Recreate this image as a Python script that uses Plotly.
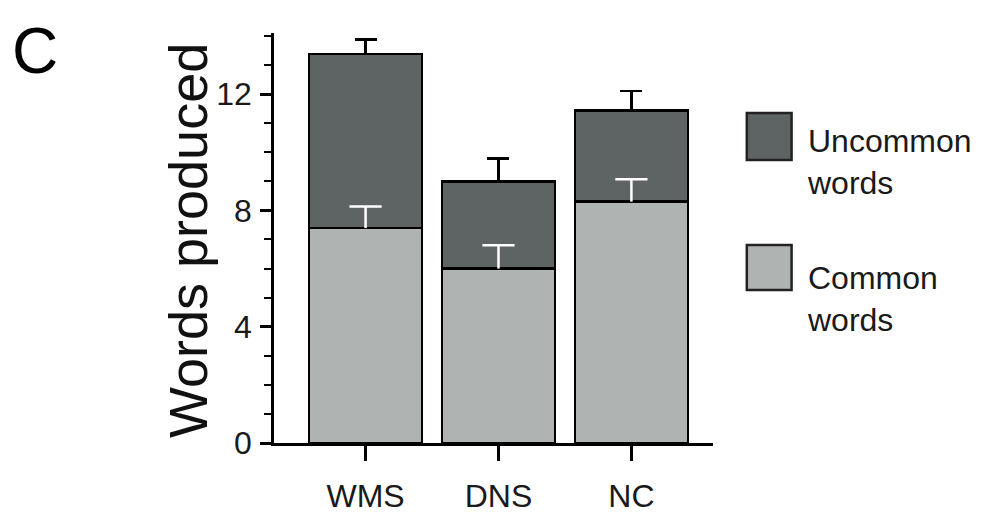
import plotly.graph_objects as go

groups = ["WMS", "DNS", "NC"]
common_words = [7.39, 6.0, 8.3]
common_err = [0.74, 0.8, 0.77]
uncommon_words = [5.98, 2.99, 3.13]
total_err = [0.5, 0.8, 0.67]
y_ticks = [0, 4, 8, 12]

FONT = "Liberation Sans, Arial, sans-serif"
DARK = "#5e6463"
LIGHT = "#afb3b2"

common_err_top = [c + e for c, e in zip(common_words, common_err)]

fig = go.Figure()
fig.add_trace(go.Bar(
    x=groups, y=common_words, name="Common words",
    marker=dict(color=LIGHT, line=dict(color="black", width=2.5)),
    showlegend=False,
))
fig.add_trace(go.Bar(
    x=groups, y=uncommon_words, name="Uncommon words",
    marker=dict(color=DARK, line=dict(color="black", width=2.5)),
    error_y=dict(type="data", symmetric=False, array=total_err,
                 arrayminus=[0] * len(groups), color="black",
                 thickness=2.5, width=11),
    showlegend=False,
))
# white error stems for common words drawn on top of stacked bars
fig.add_trace(go.Scatter(
    x=groups, y=common_words, mode="markers",
    marker=dict(size=1, opacity=0),
    error_y=dict(type="data", symmetric=False, array=common_err,
                 arrayminus=[0] * len(groups), color="white",
                 thickness=2.5, width=0),
    showlegend=False, hoverinfo="skip",
))
# white caps (top only)
fig.add_trace(go.Scatter(
    x=groups, y=common_err_top, mode="markers",
    marker=dict(symbol="line-ew-open", size=23, color="white",
                line=dict(color="white", width=2.5)),
    showlegend=False, hoverinfo="skip",
))

fig.update_layout(
    barmode="stack", bargap=0.15,
    width=985, height=515,
    margin=dict(l=266, r=280, t=25, b=80),
    paper_bgcolor="white", plot_bgcolor="white",
    font=dict(family=FONT, size=32, color="#1a1a1a"),
)
fig.update_xaxes(
    range=[-0.689, 2.614], showgrid=False, zeroline=False,
    showline=True, linecolor="black", linewidth=2.5,
    ticks="outside", ticklen=15, tickwidth=2.5, tickcolor="black",
    ticklabelstandoff=8, automargin=False,
    tickfont=dict(family=FONT, size=32, color="#1a1a1a"),
)
fig.update_yaxes(
    range=[0, 14.1], showgrid=False, zeroline=False,
    showline=True, linecolor="black", linewidth=2.5,
    tickvals=y_ticks, ticks="outside", ticklen=11, tickwidth=2.5, tickcolor="black",
    minor=dict(dtick=1, ticks="outside", ticklen=7, tickwidth=2, tickcolor="black"),
    ticklabelstandoff=2, automargin=False,
    tickfont=dict(family=FONT, size=32, color="#1a1a1a"),
)

# y-axis title
fig.add_annotation(text="Words produced", xref="paper", yref="paper",
                   x=-0.196, y=0.495, textangle=-90, showarrow=False,
                   font=dict(family=FONT, size=54, color="#111"),
                   xanchor="center", yanchor="middle")
# panel letter
fig.add_annotation(text="C", xref="paper", yref="paper", x=-0.544, y=0.955,
                   showarrow=False, font=dict(family=FONT, size=64, color="black"),
                   xanchor="center", yanchor="middle")

# legend drawn manually
legend_items = [("Uncommon<br>words", DARK, 0.805, 0.690, 0.685),
                ("Common<br>words", LIGHT, 0.483, 0.373, 0.352)]
for label, col, y1, y0, ty in legend_items:
    fig.add_shape(type="rect", xref="paper", yref="paper", x0=1.077, x1=1.179,
                  y0=y0, y1=y1, fillcolor=col, line=dict(color="#222", width=2.5))
    fig.add_annotation(text=label, xref="paper", yref="paper", x=1.21, y=ty,
                       showarrow=False, align="left", xanchor="left", yanchor="middle",
                       font=dict(family=FONT, size=32, color="#1a1a1a"))

fig.write_html("out.html")
